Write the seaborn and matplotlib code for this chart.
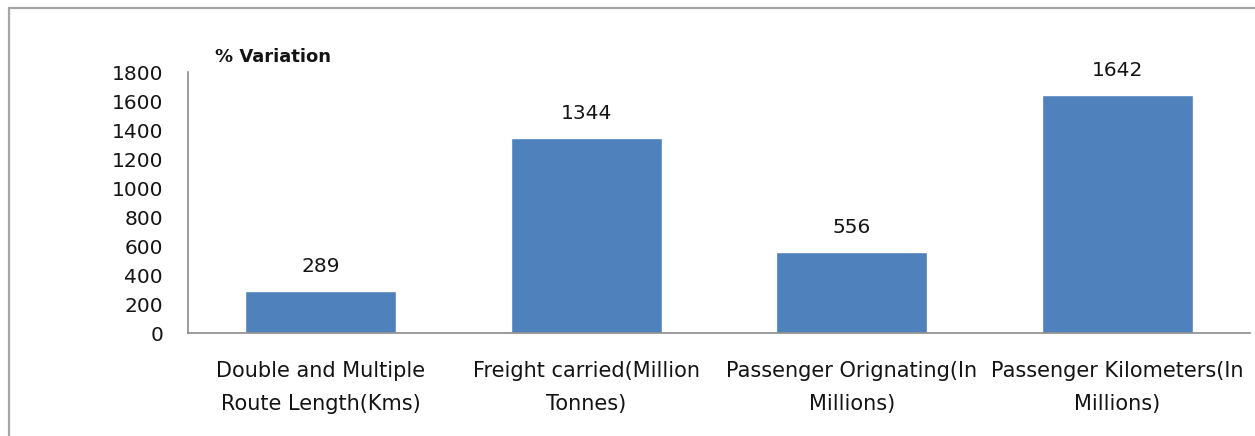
import matplotlib
matplotlib.use("Agg")
import matplotlib.pyplot as plt
from matplotlib.patches import Rectangle
import seaborn as sns
import pandas as pd

categories = [
    "Double and Multiple\nRoute Length(Kms)",
    "Freight carried(Million\nTonnes)",
    "Passenger Orignating(In\nMillions)",
    "Passenger Kilometers(In\nMillions)",
]
variation = [289, 1344, 556, 1642]
y_ticks = [0, 200, 400, 600, 800, 1000, 1200, 1400, 1600, 1800]

sns.set_theme(style="white")
plt.rcParams["font.family"] = ["DejaVu Sans"]

W, H = 1255, 436
fig = plt.figure(figsize=(W / 100, H / 100), dpi=100)
ax = fig.add_axes([188 / W, 1 - 333 / H, (1250 - 188) / W, (333 - 72) / H])

df = pd.DataFrame({"category": categories, "variation": variation})
sns.barplot(data=df, x="category", y="variation", color="#4F81BD",
            saturation=1, width=0.57, ax=ax)

ax.set_xlim(-0.5, 3.5)
ax.set_ylim(0, 1800)
ax.set_yticks(y_ticks)
ax.set_yticklabels([str(t) for t in y_ticks])
ax.set_xlabel("")
ax.set_ylabel("")

for side in ("top", "right"):
    ax.spines[side].set_visible(False)
for side in ("left", "bottom"):
    ax.spines[side].set_color("#8c8c8c")
    ax.spines[side].set_linewidth(1.2)

fs = 14.5
ink = "#141414"
ax.tick_params(axis="y", length=0, pad=18, labelsize=fs, labelcolor=ink)
ax.tick_params(axis="x", length=0, pad=20, labelsize=15, labelcolor=ink)
for lbl in ax.get_xticklabels():
    lbl.set_linespacing(1.8)

for container in ax.containers:
    ax.bar_label(container, labels=[str(v) for v in variation], padding=11,
                 fontsize=fs, color=ink)

fig.text(215 / W, 1 - 57 / H, "% Variation", fontsize=13, fontweight="bold",
         color=ink, va="center", ha="left")

# light grey chart-area border
fig.patches.append(Rectangle((9 / W, -0.1), 1.2, 1 - 8 / H + 0.1,
                             transform=fig.transFigure, fill=False,
                             edgecolor="#a6a6a6", linewidth=1.6))

fig.savefig("out.png", dpi=100)
